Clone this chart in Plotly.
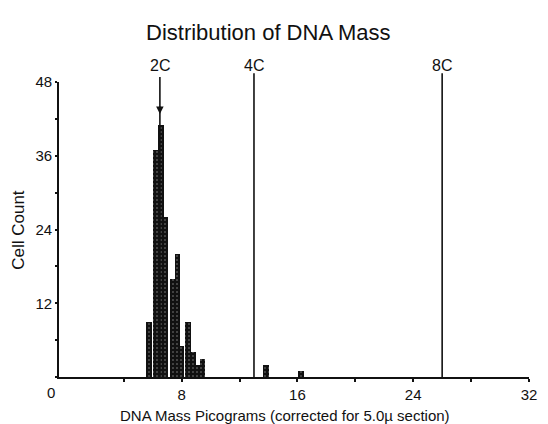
import plotly.graph_objects as go

# ---- data ----
bin_centers = [5.74, 6.22, 6.56, 6.90, 7.38, 7.72, 7.99, 8.43, 8.77, 9.08, 9.45, 13.83, 16.25]
cell_counts = [9, 37, 41, 26, 16, 20, 5, 9, 4, 2, 3, 2, 1]
ploidy_labels = ["2C", "4C", "8C"]
ploidy_mass = [6.5, 13, 26]
x_tick_vals = [4, 8, 12, 16, 20, 24, 28, 32]
x_tick_text = ["", "8", "", "16", "", "24", "", "32"]
y_tick_vals = [0, 6, 12, 18, 24, 30, 36, 42, 48]
y_tick_text = ["", "", "12", "", "24", "", "36", "", "48"]

REG = "Liberation Sans, Arial, Helvetica, sans-serif"
INK = "#111111"

fig = go.Figure()
fig.add_trace(go.Bar(
    x=bin_centers, y=cell_counts, width=0.38,
    marker=dict(color=INK, line=dict(width=0),
                pattern=dict(shape=".", fgcolor="white", size=4, solidity=0.12)),
    showlegend=False,
))

shapes = []
annotations = []
for lab, m in zip(ploidy_labels, ploidy_mass):
    top = 1.017 if lab == "2C" else 1.03
    shapes.append(dict(type="line", xref="x", yref="paper", x0=m, x1=m, y0=0, y1=top,
                       line=dict(color=INK, width=1.6)))
    annotations.append(dict(xref="x", yref="paper", x=m, y=1.057, text=lab, showarrow=False,
                            xanchor="center", yanchor="middle",
                            font=dict(family=REG, size=16, color=INK)))

# arrow marker on the 2C line
annotations.append(dict(xref="x", yref="y", x=ploidy_mass[0], y=42.8, text="", showarrow=True,
                        ax=0, ay=-9, arrowhead=2, arrowsize=1, arrowwidth=1.5, arrowcolor=INK))

# title
annotations.append(dict(xref="paper", yref="paper", x=0.4467, y=1.169, text="Distribution of DNA Mass",
                        showarrow=False, xanchor="center", yanchor="middle",
                        font=dict(family=REG, size=22, color=INK)))
# x-axis title
annotations.append(dict(xref="paper", yref="paper", x=0.481, y=-0.132,
                        text="DNA Mass Picograms (corrected for 5.0µ section)",
                        showarrow=False, xanchor="center", yanchor="middle",
                        font=dict(family=REG, size=15, color=INK)))
# y-axis title
annotations.append(dict(xref="paper", yref="paper", x=-0.0879, y=0.498, text="Cell Count",
                        textangle=-90, showarrow=False, xanchor="center", yanchor="middle",
                        font=dict(family=REG, size=17, color=INK)))
# origin label
annotations.append(dict(xref="paper", yref="paper", x=-0.0167, y=-0.054, text="0",
                        showarrow=False, xanchor="center", yanchor="middle",
                        font=dict(family=REG, size=15, color=INK)))

# page body has an 8px default margin: size the figure so it ends at the window edge
fig.update_layout(
    width=540, height=416, autosize=False,
    margin=dict(l=51, r=11, t=74, b=47, pad=0),
    paper_bgcolor="white", plot_bgcolor="white",
    bargap=0,
    shapes=shapes, annotations=annotations,
    xaxis=dict(range=[-0.47, 32], tickvals=x_tick_vals, ticktext=x_tick_text,
               showgrid=False, zeroline=False, showline=True, linecolor=INK, linewidth=1.8,
               ticks="outside", ticklen=3, tickwidth=1.5, tickcolor=INK,
               tickfont=dict(family=REG, size=15, color=INK)),
    yaxis=dict(range=[0, 48], tickvals=y_tick_vals, ticktext=y_tick_text,
               showgrid=False, zeroline=False, showline=True, linecolor=INK, linewidth=1.8,
               ticks="outside", ticklen=2, tickwidth=1.5, tickcolor=INK,
               tickfont=dict(family=REG, size=15, color=INK)),
)

fig.write_html("out.html")
